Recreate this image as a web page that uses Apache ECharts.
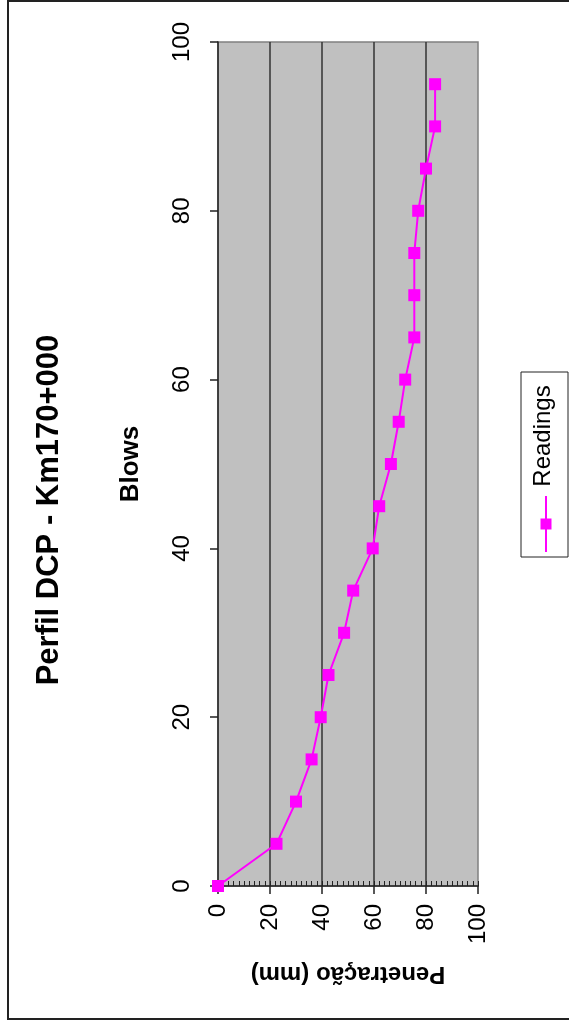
<!DOCTYPE html>
<html>
<head>
<meta charset="utf-8">
<script src="https://cdn.jsdelivr.net/npm/echarts@6/dist/echarts.min.js"></script>
<style>
html,body{margin:0;padding:0;background:#fff;}
#chart{width:569px;height:1025px;}
</style>
</head>
<body>
<div id="chart"></div>
<script>
// ---- data ----
const titleText = 'Perfil DCP - Km170+000';
const seriesName = 'Readings';
const blowsAxisName = 'Blows';
const penAxisName = 'Penetração (mm)';
const blows = [0, 5, 10, 15, 20, 25, 30, 35, 40, 45, 50, 55, 60, 65, 70, 75, 80, 85, 90, 95];
const penetration = [0, 22.5, 30, 36, 39.5, 42.5, 48.5, 52, 59.5, 62, 66.5, 69.5, 72, 75.5, 75.5, 75.5, 77, 80, 83.5, 83.5];
const axisMin = 0, axisMax = 100, axisStep = 20, minorStep = 2;

const FONT = '"Liberation Sans", Arial, sans-serif';
const chart = echarts.init(document.getElementById('chart'), null, {renderer: 'canvas'});
const data = blows.map((b, i) => [penetration[i], b]);

const option = {
  animation: false,
  backgroundColor: '#ffffff',
  grid: {left: 218, right: 91, top: 42, bottom: 139, show: true,
    backgroundColor: '#c0c0c0', borderColor: '#808080', borderWidth: 1.5},
  xAxis: [{
    type: 'value', min: axisMin, max: axisMax, interval: axisStep, position: 'bottom',
    axisLine: {show: true, lineStyle: {color: '#222', width: 1.5}},
    axisTick: {show: true, length: 8, lineStyle: {color: '#222', width: 1.5}},
    axisLabel: {rotate: 90, margin: 18, fontSize: 24, color: '#000', fontFamily: FONT},
    splitLine: {show: true, showMinLine: false, showMaxLine: false, lineStyle: {color: '#333', width: 1.5}},
    name: penAxisName, nameLocation: 'middle', nameRotate: 180, nameGap: 76,
    nameTextStyle: {fontSize: 24, fontWeight: 'bold', color: '#000', fontFamily: FONT}
  }, {
    type: 'value', min: axisMin, max: axisMax, interval: minorStep, position: 'bottom',
    axisLine: {show: false},
    axisTick: {show: true, inside: true, length: 5, lineStyle: {color: '#222', width: 1}},
    axisLabel: {show: false}, splitLine: {show: false}
  }],
  yAxis: {
    type: 'value', min: axisMin, max: axisMax, interval: axisStep,
    axisLine: {show: true, lineStyle: {color: '#222', width: 1.5}},
    axisTick: {show: true, length: 8, lineStyle: {color: '#222', width: 1.5}},
    axisLabel: {rotate: 90, margin: 24, fontSize: 24, color: '#000', fontFamily: FONT},
    splitLine: {show: false},
    name: blowsAxisName, nameLocation: 'middle', nameRotate: 90, nameGap: 74,
    nameTextStyle: {fontSize: 26, fontWeight: 'bold', color: '#000', fontFamily: FONT}
  },
  series: [{
    name: seriesName, type: 'line', data: data, xAxisIndex: 0, yAxisIndex: 0,
    symbol: 'rect', symbolSize: 12,
    lineStyle: {color: '#ff00ff', width: 2},
    itemStyle: {color: '#ff00ff'}
  }],
  graphic: [
    {type: 'rect', shape: {x: 8, y: 1, width: 600, height: 1018},
      style: {fill: 'none', stroke: '#222', lineWidth: 2}, silent: true},
    {type: 'text', x: 49, y: 510, rotation: Math.PI / 2,
      style: {text: titleText, fontSize: 31, fontWeight: 'bold', fontFamily: FONT, fill: '#000',
        align: 'center', verticalAlign: 'middle'}},
    {type: 'rect', shape: {x: 521, y: 372, width: 47, height: 185},
      style: {fill: '#fff', stroke: '#222', lineWidth: 1}},
    {type: 'line', shape: {x1: 546, y1: 496, x2: 546, y2: 552},
      style: {stroke: '#ff00ff', lineWidth: 2}},
    {type: 'rect', shape: {x: 540.5, y: 518.5, width: 11, height: 11},
      style: {fill: '#ff00ff'}},
    {type: 'text', x: 543, y: 436, rotation: Math.PI / 2,
      style: {text: seriesName, fontSize: 24, fontFamily: FONT, fill: '#000',
        align: 'center', verticalAlign: 'middle'}}
  ]
};
chart.setOption(option);
</script>
</body>
</html>
